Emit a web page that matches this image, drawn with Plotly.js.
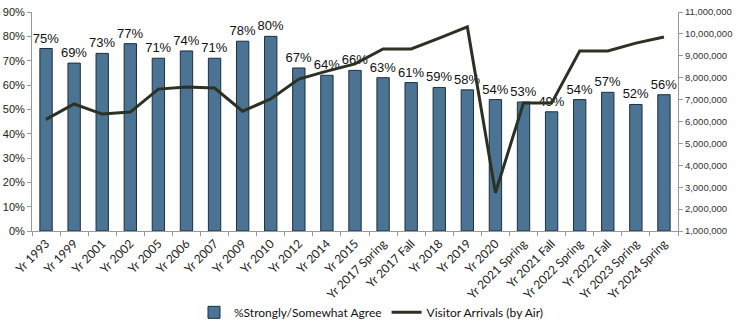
<!DOCTYPE html>
<html>
<head>
<meta charset="utf-8">
<script src="https://cdn.plot.ly/plotly-3.0.1.min.js"></script>
<style>html,body{margin:0;padding:0;background:#fff;}#chart{width:742px;height:322px;}</style>
</head>
<body>
<div id="chart"></div>
<script>
const categories = ["Yr 1993","Yr 1999","Yr 2001","Yr 2002","Yr 2005","Yr 2006","Yr 2007","Yr 2009","Yr 2010","Yr 2012","Yr 2014","Yr 2015","Yr 2017 Spring","Yr 2017 Fall","Yr 2018","Yr 2019","Yr 2020","Yr 2021 Spring","Yr 2021 Fall","Yr 2022 Spring","Yr 2022 Fall","Yr 2023 Spring","Yr 2024 Spring"];
const agreePct = [0.75,0.69,0.73,0.77,0.71,0.74,0.71,0.78,0.80,0.67,0.64,0.66,0.63,0.61,0.59,0.58,0.54,0.53,0.49,0.54,0.57,0.52,0.56];
const visitorArrivals = [6100000,6800000,6340000,6430000,7480000,7580000,7530000,6470000,7030000,7940000,8300000,8630000,9310000,9310000,9810000,10320000,2750000,6840000,6840000,9220000,9220000,9580000,9860000];
const agreeName = "%Strongly/Somewhat Agree";
const arrivalsName = "Visitor Arrivals (by Air)";

const traces = [
  {
    type: "bar", x: categories, y: agreePct, name: agreeName,
    marker: {color: "#4a7394", line: {color: "#1f2f3d", width: 1}},
    texttemplate: "%{y:.0%}", textposition: "outside", cliponaxis: false,
    constraintext: "none",
    textfont: {family: "Liberation Sans, Arial", size: 13, color: "#111"},
    hoverinfo: "skip"
  },
  {
    type: "scatter", mode: "lines", x: categories, y: visitorArrivals, name: arrivalsName,
    yaxis: "y2", line: {color: "#2c3223", width: 3}
  }
];

const layout = {
  width: 742, height: 322,
  margin: {l: 32, r: 64, t: 12, b: 91, autoexpand: false},
  paper_bgcolor: "#fff", plot_bgcolor: "#fff",
  font: {family: "Liberation Sans, Arial", size: 11, color: "#222"},
  bargap: 0.56,
  showlegend: true,
  legend: {orientation: "h", x: 0.5, xanchor: "center", xref: "container",
           y: 0.03, yanchor: "middle", yref: "container",
           font: {family: "Lato, Liberation Sans, Arial", size: 12, color: "#111"},
           traceorder: "normal"},
  xaxis: {
    type: "category", tickangle: -45, showline: true, linecolor: "#999", linewidth: 1,
    ticks: "outside", tickson: "boundaries", ticklen: 4, tickcolor: "#999",
    tickfont: {family: "Lato, Liberation Sans, Arial", size: 12, color: "#222"},
    showgrid: false, zeroline: false, automargin: false
  },
  yaxis: {
    range: [0, 0.9], dtick: 0.1, tickformat: ".0%", showline: true, linecolor: "#999",
    ticks: "outside", ticklen: 4, tickcolor: "#999", showgrid: false, zeroline: false,
    tickfont: {size: 11, color: "#222"}, automargin: false
  },
  yaxis2: {
    overlaying: "y", side: "right", range: [1000000, 11000000], dtick: 1000000,
    tickformat: ",d", showline: true, linecolor: "#999", ticks: "outside", ticklen: 4,
    tickcolor: "#999", showgrid: false, zeroline: false,
    tickfont: {size: 9.5, color: "#333"}, automargin: false
  }
};

Plotly.newPlot("chart", traces, layout, {displayModeBar: false, staticPlot: true});
</script>
</body>
</html>
